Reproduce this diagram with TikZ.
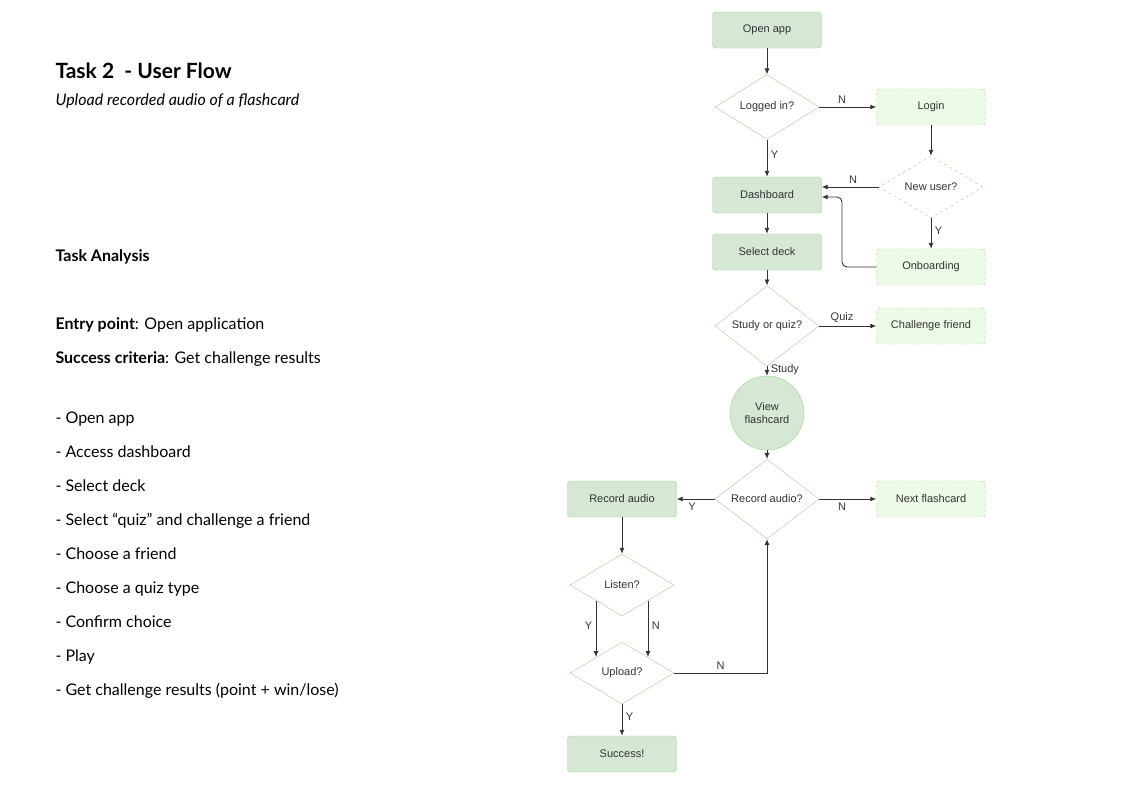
\documentclass[tikz,border=0pt]{standalone}
\usepackage{fontspec}
\setmainfont{Lato}
\newfontfamily\chartfont{Liberation Sans}
\usetikzlibrary{shapes.geometric,arrows.meta}
\definecolor{boxfill}{HTML}{D5E8D4}
\definecolor{boxline}{HTML}{A3CF93}
\definecolor{dashfill}{HTML}{EBFBE6}
\definecolor{chartgrey}{HTML}{333333}

\begin{document}
\begin{tikzpicture}[x=1pt,y=-1pt,
    every node/.style={text=chartgrey},
    stepbox/.style={draw=boxline,fill=boxfill,rounded corners=3pt,minimum width=109,minimum height=36,font=\chartfont\fontsize{11}{13}\selectfont},
    optbox/.style={stepbox,dashed,fill=dashfill},
    choice/.style={diamond,draw=boxline,fill=white,minimum width=104,minimum height=62,inner sep=0pt,font=\chartfont\fontsize{11}{13}\selectfont},
    flow/.style={-{Latex[length=6pt,width=5pt]},draw=chartgrey,line width=0.9pt},
    lbl/.style={font=\chartfont\fontsize{11}{13}\selectfont},
    txt/.style={anchor=base west,font=\fontsize{16}{19}\selectfont,text=black}]
  \useasboundingbox (0,0) rectangle (1121,793);

  % Left column text
  \node[txt,font=\bfseries\fontsize{21}{25}\selectfont] (title) at (52,78) {Task 2\ \ - User Flow};
  \node[txt,font=\itshape\fontsize{16}{19}\selectfont] (sub) at (52,105) {Upload recorded audio of a flashcard};
  \node[txt,font=\bfseries\fontsize{16}{19}\selectfont] (ta) at (52,261) {Task Analysis};
  \node[txt] (entry) at (52,329) {\textbf{Entry point}: Open application};
  \node[txt] (succ) at (52,363) {\textbf{Success criteria}: Get challenge results};
  \foreach \t [count=\i from 0] in {Open app,Access dashboard,Select deck,Select “quiz” and challenge a friend,Choose a friend,Choose a quiz type,Confirm choice,Play,Get challenge results (point + win/lose)}
    \node[txt] (item\i) at (52,423+34*\i) {- \t};

  % Flow chart
  \node[stepbox] (open) at (767,30) {Open app};
  \node[choice] (logged) at (767,107) {Logged in?};
  \node[optbox] (login) at (931,107) {Login};
  \node[choice,dashed] (newuser) at (931,187) {New user?};
  \node[stepbox] (dash) at (767,195) {Dashboard};
  \node[stepbox] (deck) at (767,252) {Select deck};
  \node[optbox] (onboard) at (931,267) {Onboarding};
  \node[choice] (study) at (767,326) {Study or quiz?};
  \node[optbox] (challenge) at (931,326) {Challenge friend};
  \node[circle,draw=boxline,fill=boxfill,minimum size=74,inner sep=0pt,align=center,lbl] (view) at (767,413) {View\\flashcard};
  \node[choice] (recq) at (767,499) {Record audio?};
  \node[stepbox] (rec) at (622,499) {Record audio};
  \node[optbox] (next) at (931,499) {Next flashcard};
  \node[choice] (listen) at (622,585) {Listen?};
  \node[choice] (upload) at (622,673) {Upload?};
  \node[stepbox] (success) at (622,754) {Success!};

  \draw[flow] (open) -- (logged);
  \draw[flow] (logged) -- node[lbl,above,pos=0.4] {N} (login);
  \draw[flow] (logged) -- node[lbl,right,pos=0.4] {Y} (dash);
  \draw[flow] (login) -- (newuser);
  \draw[flow] (newuser.west) -- node[lbl,above,pos=0.45] {N} (dash.east |- newuser.west);
  \draw[flow] (newuser) -- node[lbl,right,pos=0.4] {Y} (onboard);
  \draw[flow,rounded corners=5pt] (onboard.west) -| (842,197) -- (dash.east |- 0,197);
  \draw[flow] (dash) -- (deck);
  \draw[flow] (deck) -- (study);
  \draw[flow] (study) -- node[lbl,above,pos=0.4] {Quiz} (challenge);
  \draw[flow] (study) -- node[lbl,right,pos=0.3] {Study} (view);
  \draw[flow] (view) -- (recq);
  \draw[flow] (recq) -- node[lbl,below,pos=0.6] {Y} (rec);
  \draw[flow] (recq) -- node[lbl,below,pos=0.4] {N} (next);
  \draw[flow] (rec) -- (listen);
  \draw[flow] (596,601) -- node[lbl,left,pos=0.45] {Y} (596,657);
  \draw[flow] (648,601) -- node[lbl,right,pos=0.45] {N} (648,657);
  \draw[flow] (upload.east) -| node[lbl,above,pos=0.25] {N} (recq.south);
  \draw[flow] (upload) -- node[lbl,right,pos=0.4] {Y} (success);
\end{tikzpicture}
\end{document}
